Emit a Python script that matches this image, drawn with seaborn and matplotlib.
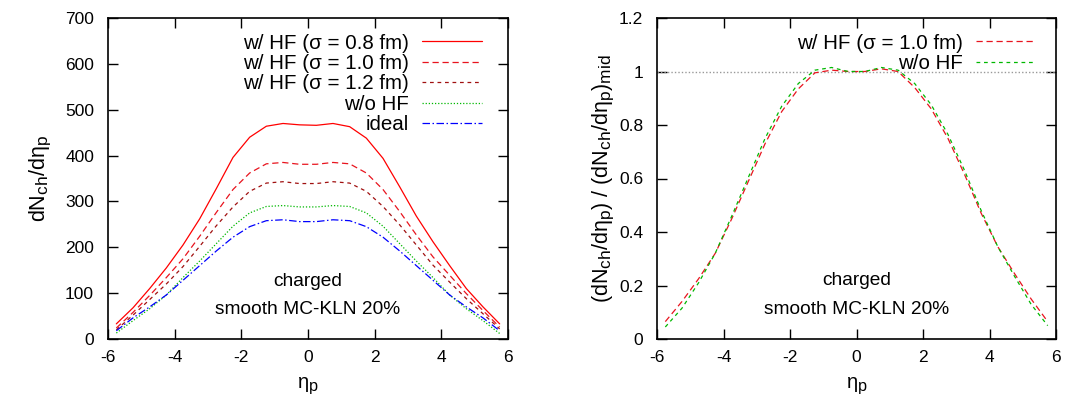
import numpy as np
import pandas as pd
import matplotlib
matplotlib.use("Agg")
import matplotlib.pyplot as plt
import seaborn as sns

try:
    import matplotlib._mathtext as _mt
    _mt.SHRINK_FACTOR = 0.8
except Exception:
    pass

# ---------------- data ----------------
eta = [-5.75, -5.25, -4.75, -4.25, -3.75, -3.25, -2.75, -2.25, -1.75, -1.25, -0.75, -0.25,
       0.25, 0.75, 1.25, 1.75, 2.25, 2.75, 3.25, 3.75, 4.25, 4.75, 5.25, 5.75]

hf_08 = [33, 68, 110, 155, 205, 262, 328, 396, 440, 464, 470, 467,
         466, 470, 463, 438, 394, 332, 268, 212, 160, 110, 70, 33]
hf_10 = [24, 58, 95, 134, 175, 224, 276, 326, 362, 382, 385, 381,
         381, 385, 382, 362, 326, 278, 227, 179, 139, 99, 62, 26]
hf_12 = [20, 52, 86, 120, 158, 202, 247, 288, 322, 340, 343, 339,
         339, 343, 340, 322, 289, 249, 205, 161, 124, 88, 55, 22]
no_hf = [13, 40, 66, 96, 134, 170, 208, 246, 275, 289, 291, 288,
         288, 291, 289, 275, 246, 208, 170, 134, 96, 66, 40, 12]
ideal = [18, 46, 70, 96, 128, 160, 192, 222, 245, 258, 260, 256,
         256, 260, 258, 245, 222, 192, 160, 128, 96, 70, 46, 18]

ratio_hf10 = [0.065, 0.14, 0.225, 0.32, 0.45, 0.59, 0.73, 0.85, 0.935, 0.995, 1.005, 1.0,
              1.0, 1.01, 1.0, 0.94, 0.86, 0.75, 0.615, 0.47, 0.345, 0.245, 0.15, 0.065]
ratio_nohf = [0.045, 0.115, 0.21, 0.32, 0.46, 0.605, 0.75, 0.87, 0.955, 1.005, 1.015, 1.0,
              1.0, 1.015, 1.005, 0.955, 0.875, 0.765, 0.63, 0.48, 0.345, 0.235, 0.13, 0.05]

left_labels = ["w/ HF (σ = 0.8 fm)", "w/ HF (σ = 1.0 fm)", "w/ HF (σ = 1.2 fm)", "w/o HF", "ideal"]
right_labels = ["w/ HF (σ = 1.0 fm)", "w/o HF"]
x_ticks = [-6, -4, -2, 0, 2, 4, 6]
left_yticks = [0, 100, 200, 300, 400, 500, 600, 700]
right_yticks = [0, 0.2, 0.4, 0.6, 0.8, 1.0, 1.2]
right_yticklabels = ["0", "0.2", "0.4", "0.6", "0.8", "1", "1.2"]

# ---------------- style ----------------
sns.set_style("ticks")
plt.rcParams["font.family"] = ["Liberation Sans", "DejaVu Sans"]
plt.rcParams["axes.unicode_minus"] = False
plt.rcParams["mathtext.fontset"] = "custom"
plt.rcParams["mathtext.rm"] = "Liberation Sans"
plt.rcParams["mathtext.it"] = "Liberation Sans"
for k in ("text.color", "axes.labelcolor", "xtick.color", "ytick.color", "axes.edgecolor"):
    plt.rcParams[k] = "black"
FS = 12.5      # tick labels
TFS = 13.8     # annotations
GFS = 14.8     # legend
LFS = 15.5     # axis labels

fig = plt.figure(figsize=(10.69, 4.05), dpi=100)
W, H = 1069, 405
ax1 = fig.add_axes([108 / W, 1 - 339 / H, 400 / W, 321 / H])
ax2 = fig.add_axes([657 / W, 1 - 339 / H, 399 / W, 321 / H])

df = pd.DataFrame({"eta": eta, "hf08": hf_08, "hf10": hf_10, "hf12": hf_12,
                   "nohf": no_hf, "ideal": ideal, "r10": ratio_hf10, "rno": ratio_nohf})

lw = 0.9
styles_left = [
    ("hf08", "#ff0000", "-"),
    ("hf10", "#e8141e", (0, (5, 3))),
    ("hf12", "#a01010", (0, (3, 3))),
    ("nohf", "#00b800", (0, (1, 1.5))),
    ("ideal", "#0000ff", (0, (6, 2, 1.2, 2))),
]
for (col, c, ls), lab in zip(styles_left, left_labels):
    sns.lineplot(data=df, x="eta", y=col, ax=ax1, color=c, linestyle=ls, lw=lw, label=lab)

ax2.axhline(1.0, color="#999999", lw=1.0, linestyle=(0, (1, 1.5)))
sns.lineplot(data=df, x="eta", y="r10", ax=ax2, color="#e8141e", linestyle=(0, (5, 3)), lw=lw,
             label=right_labels[0])
sns.lineplot(data=df, x="eta", y="rno", ax=ax2, color="#00b800", linestyle=(0, (3, 3)), lw=lw,
             label=right_labels[1])

for ax in (ax1, ax2):
    ax.set_xlim(-6, 6)
    ax.set_xticks(x_ticks)
    ax.set_xticklabels([str(t) for t in x_ticks])
    ax.tick_params(direction="in", length=7, width=1, top=True, right=True,
                   labelsize=FS, colors="black")
    ax.tick_params(axis="x", pad=8)
    ax.tick_params(axis="y", pad=10)
    for s in ax.spines.values():
        s.set_linewidth(1.2)
        s.set_color("black")
    ax.set_xlabel(r"$\eta_{\mathrm{p}}$", fontsize=LFS - 1, labelpad=8)

ax1.set_ylim(0, 700)
ax1.set_yticks(left_yticks)
ax1.set_ylabel(r"dN$_{\mathrm{ch}}$/d$\eta_{\mathrm{p}}$", fontsize=LFS, labelpad=9)

ax2.set_ylim(0, 1.2)
ax2.set_yticks(right_yticks)
ax2.set_yticklabels(right_yticklabels)
ax2.set_ylabel(r"(dN$_{\mathrm{ch}}$/d$\eta_{\mathrm{p}}$) / (dN$_{\mathrm{ch}}$/d$\eta_{\mathrm{p}}$)$_{\mathrm{mid}}$",
               fontsize=LFS, labelpad=2)

ax1.text(0, 126, "charged", ha="center", va="center", fontsize=TFS)
ax1.text(0, 65, "smooth MC-KLN 20%", ha="center", va="center", fontsize=TFS)
ax2.text(0, 0.217, "charged", ha="center", va="center", fontsize=TFS)
ax2.text(0, 0.112, "smooth MC-KLN 20%", ha="center", va="center", fontsize=TFS)

leg_kw = dict(loc="upper right", markerfirst=False, frameon=False, fontsize=GFS,
              handlelength=2.9, handletextpad=0.63, labelspacing=0.07, borderpad=0.1)
ax1.legend(bbox_to_anchor=(0.965, 0.99), **leg_kw)
ax2.legend(bbox_to_anchor=(0.98, 0.99), **leg_kw)

fig.savefig("out.png", dpi=100)
